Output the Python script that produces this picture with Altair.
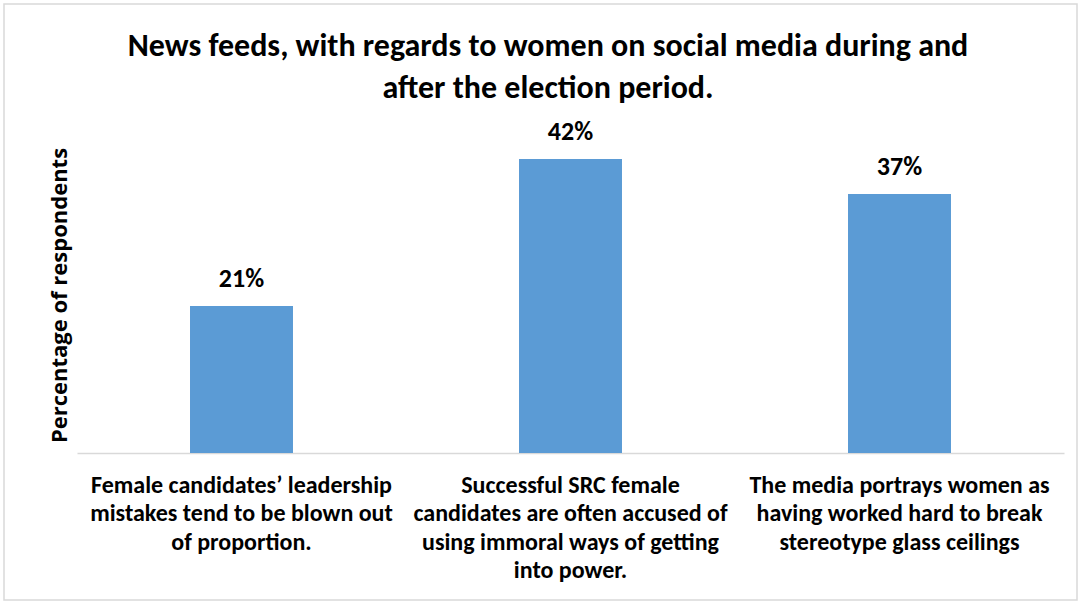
import altair as alt
import pandas as pd

title_lines = [
    "News feeds, with regards to women on social media during and",
    "after the election period.",
]
categories = [
    "Female candidates’ leadership|mistakes tend to be blown out|of proportion.",
    "Successful SRC female|candidates are often accused of|using immoral ways of getting|into power.",
    "The media portrays women as|having worked hard to break|stereotype glass ceilings",
]
values = [21, 42, 37]
value_labels = ["21%", "42%", "37%"]

df = pd.DataFrame({"cat": categories, "value": values, "label": value_labels})

F = "Carlito, 'Liberation Sans Narrow', 'Open Sans', sans-serif"
BLUE = "#5B9BD5"
GRAY = "#D9D9D9"

x_enc = alt.X(
    "cat:N",
    sort=None,
    scale=alt.Scale(paddingInner=0.687, paddingOuter=0.3435),
    axis=alt.Axis(
        title=None,
        labelExpr="split(datum.label, '|')",
        labelAngle=0,
        labelFont=F,
        labelFontSize=24,
        labelFontWeight="bold",
        labelColor="black",
        labelLineHeight=28.5,
        labelPadding=20,
        labelBaseline="top",
        labelLimit=0,
        ticks=False,
        domainColor=GRAY,
        domainWidth=1.5,
        grid=False,
    ),
)
y_enc = alt.Y(
    "value:Q",
    scale=alt.Scale(domain=[0, 50]),
    axis=alt.Axis(
        title="Percentage of respondents",
        labels=False,
        ticks=False,
        domain=False,
        grid=False,
        titleFont="'Open Sans', sans-serif",
        titleFontSize=22,
        titleFontWeight="bold",
        titleColor="black",
        titleX=-11,
        titleY=192,
        titleAngle=270,
        titleBaseline="alphabetic",
        titleAlign="center",
    ),
)

base = alt.Chart(df).encode(x=x_enc, y=y_enc)
bars = base.mark_bar(color=BLUE)
texts = base.mark_text(
    baseline="alphabetic", dy=-19, font=F, fontSize=26, fontWeight="bold", color="black"
).encode(text="label:N")

one = pd.DataFrame({"a": [0]})
border = alt.Chart(one).mark_rect(
    filled=False, stroke=GRAY, strokeWidth=1.5
).encode(
    x=alt.value(-73), x2=alt.value(1000), y=alt.value(-99), y2=alt.value(497)
)
title = alt.Chart(one).mark_text(
    text=title_lines,
    font=F,
    fontSize=32,
    fontWeight="bold",
    color="black",
    align="center",
    baseline="top",
    lineHeight=42,
).encode(x=alt.value(471), y=alt.value(-72))

chart = alt.layer(border, bars, texts, title).properties(
    width=987,
    height=350,
    autosize=alt.AutoSizeParams(type="none"),
    padding={"left": 77, "top": 103, "right": 17, "bottom": 152},
    background="white",
).configure_view(strokeWidth=0)

chart.save("out.html", embed_options={"renderer": "svg", "actions": False})
